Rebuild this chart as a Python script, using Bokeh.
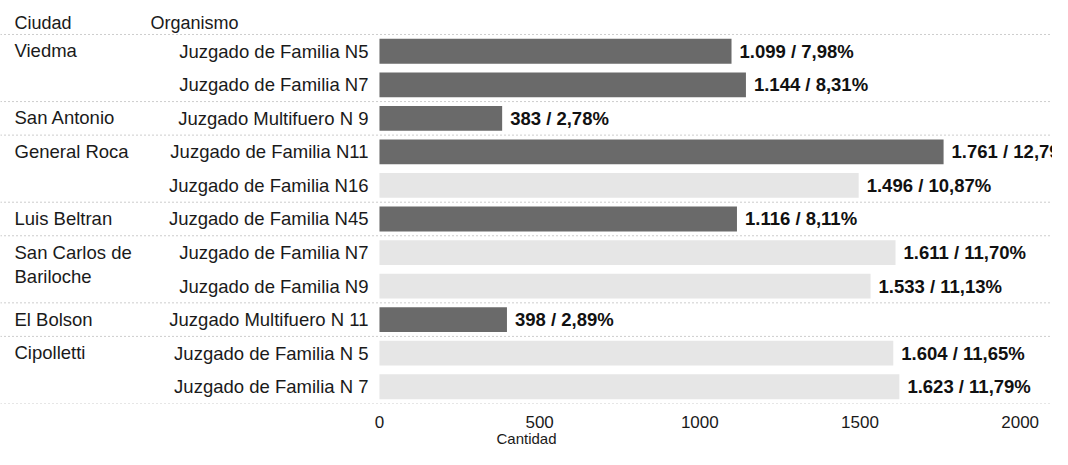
from bokeh.plotting import figure
from bokeh.models import Range1d, ColumnDataSource, FixedTicker, Span
from bokeh.transform import factor_cmap
from bokeh.core.properties import value
from bokeh.embed import file_html
from bokeh.resources import INLINE

# ---- data ----
ciudades = ["Viedma", "Viedma", "San Antonio", "General Roca", "General Roca",
            "Luis Beltran", "San Carlos de\nBariloche", "San Carlos de\nBariloche",
            "El Bolson", "Cipolletti", "Cipolletti"]
organismos = ["Juzgado de Familia N5", "Juzgado de Familia N7", "Juzgado Multifuero N 9",
              "Juzgado de Familia N11", "Juzgado de Familia N16", "Juzgado de Familia N45",
              "Juzgado de Familia N7", "Juzgado de Familia N9", "Juzgado Multifuero N 11",
              "Juzgado de Familia N 5", "Juzgado de Familia N 7"]
cantidades = [1099, 1144, 383, 1761, 1496, 1116, 1611, 1533, 398, 1604, 1623]
porcentajes = [7.98, 8.31, 2.78, 12.79, 10.87, 8.11, 11.70, 11.13, 2.89, 11.65, 11.79]
grupo = ["A", "A", "A", "A", "B", "A", "B", "B", "A", "B", "B"]
encabezados = ["Ciudad", "Organismo"]
ticks_x = [0, 500, 1000, 1500, 2000]
titulo_x = "Cantidad"

FONT = "Liberation Sans"
X_START, X_END = -1183, 2101

rows = list(range(len(cantidades)))
etiquetas = [f"{c:,}".replace(",", ".") + " / " + f"{p:.2f}".replace(".", ",") + "%"
             for c, p in zip(cantidades, porcentajes)]

src = ColumnDataSource(dict(row=rows, cantidad=cantidades, org=organismos,
                            etiqueta=etiquetas, grupo=grupo))

city_rows = [i for i in rows if i == 0 or ciudades[i] != ciudades[i - 1]]
city_src = ColumnDataSource(dict(row=city_rows, ciudad=[ciudades[i] for i in city_rows],
                                 x=[X_START] * len(city_rows)))

p = figure(width=1052, height=449, output_backend="svg", toolbar_location=None,
           x_range=Range1d(X_START, X_END), y_range=Range1d(10.5, -1.513),
           y_axis_location=None, min_border_left=0, min_border_right=0,
           min_border_top=0, min_border_bottom=44, outline_line_color=None)
p.grid.visible = False

# separators between city groups
seps = [-0.5] + [i - 0.5 for i in city_rows[1:]] + [len(rows) - 0.5]
for s in seps:
    p.add_layout(Span(location=s, dimension="width", line_color="#9a9a9a",
                      line_width=1, line_dash="1 3"))

p.hbar(y="row", left=0, right="cantidad", height=0.74, source=src, line_color=None,
       fill_color=factor_cmap("grupo", ["#6a6a6a", "#e6e6e6"], ["A", "B"]))

p.text(x="cantidad", y="row", text="etiqueta", source=src, x_offset=8,
       text_align="left", text_baseline="middle", text_font=value(FONT),
       text_font_size="18.5px", text_font_style="bold", text_color="#111111")

p.text(x=0, y="row", text="org", source=src, x_offset=-11, text_align="right",
       text_baseline="middle", text_font=value(FONT), text_font_size="18.5px",
       text_color="#1a1a1a")

p.text(x="x", y="row", text="ciudad", source=city_src, x_offset=14, y_offset=-11,
       text_align="left", text_baseline="top", text_font=value(FONT),
       text_font_size="18.5px", text_color="#1a1a1a", text_line_height=1.15)

p.text(x=[X_START, X_START], y=[-0.83, -0.83], text=encabezados, x_offset=[14, 150],
       text_align="left", text_baseline="middle", text_font=value(FONT),
       text_font_size="18px", text_color="#1a1a1a")

ax = p.xaxis[0]
ax.ticker = FixedTicker(ticks=ticks_x)
ax.axis_line_color = None
ax.major_tick_line_color = None
ax.minor_tick_line_color = None
ax.major_label_text_font = FONT
ax.major_label_text_font_size = "17px"
ax.major_label_text_color = "#1a1a1a"
ax.major_label_standoff = 6
ax.axis_label = titulo_x
ax.axis_label_text_font = FONT
ax.axis_label_text_font_size = "15px"
ax.axis_label_text_font_style = "normal"
ax.axis_label_text_color = "#1a1a1a"
ax.axis_label_standoff = -1

open("out.html", "w").write(file_html(p, INLINE))
